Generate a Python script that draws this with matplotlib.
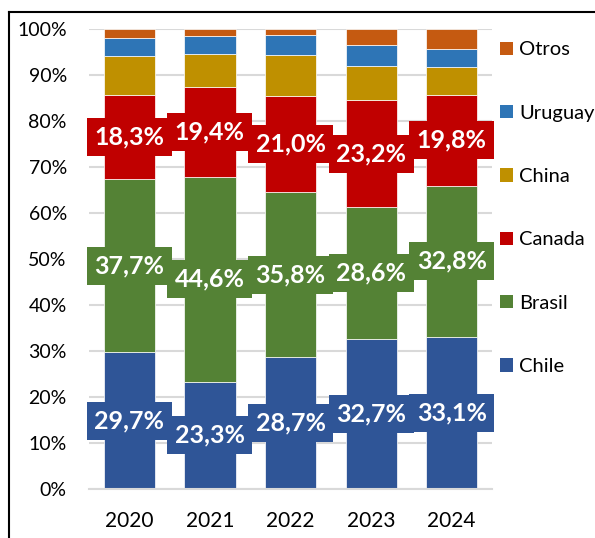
import matplotlib
matplotlib.use("Agg")
import matplotlib.pyplot as plt
from matplotlib.lines import Line2D
from matplotlib.patches import Patch
import numpy as np

years = ["2020", "2021", "2022", "2023", "2024"]
chile = [29.7, 23.3, 28.7, 32.7, 33.1]
brasil = [37.7, 44.6, 35.8, 28.6, 32.8]
canada = [18.3, 19.4, 21.0, 23.2, 19.8]
china = [8.5, 7.3, 8.9, 7.5, 6.0]
uruguay = [3.8, 3.9, 4.3, 4.5, 4.0]
otros = [2.0, 1.5, 1.3, 3.5, 4.3]

series = [
    ("Chile", chile, "#2F5597", True),
    ("Brasil", brasil, "#548235", True),
    ("Canada", canada, "#C00000", True),
    ("China", china, "#BF9000", False),
    ("Uruguay", uruguay, "#2E75B6", False),
    ("Otros", otros, "#C55A11", False),
]

plt.rcParams["font.family"] = ["Lato", "DejaVu Sans"]

fig = plt.figure(figsize=(5.95, 5.38), dpi=100)
ax = fig.add_axes([0.1496, 0.0911, 0.6773, 0.855])

x = np.arange(len(years))
bottom = np.zeros(len(years))
handles = []
for name, vals, color, labelled in series:
    vals = np.array(vals)
    ax.bar(x, vals, bottom=bottom, width=0.635, color=color,
           edgecolor="white", linewidth=0.5, zorder=2)
    if labelled:
        for xi, b, v in zip(x, bottom, vals):
            ax.text(xi, b + v / 2, f"{v:.1f}".replace(".", ",") + "%",
                    ha="center", va="center", color="white",
                    fontsize=18, fontweight="bold", zorder=4,
                    bbox=dict(boxstyle="square,pad=0.3", fc=color,
                              ec="none"))
    handles.append(Patch(facecolor=color, edgecolor="none", label=name))
    bottom += vals

ax.set_xlim(-0.5, 4.5)
ax.set_ylim(0, 100)
ax.set_yticks(np.arange(0, 101, 10))
ax.set_yticklabels([f"{v}%" for v in range(0, 101, 10)])
ax.set_xticks(x)
ax.set_xticklabels(years)
ax.tick_params(axis="y", length=0, pad=16, labelsize=14)
ax.tick_params(axis="x", length=0, pad=16, labelsize=15)
ax.yaxis.grid(True, color="#D9D9D9", linewidth=1.5, zorder=0)
ax.set_axisbelow(True)
for s in ["top", "right", "left"]:
    ax.spines[s].set_visible(False)
ax.spines["bottom"].set_color("#D9D9D9")
ax.spines["bottom"].set_linewidth(1.5)

fig.legend(handles=handles[::-1], loc="center left",
           bbox_to_anchor=(0.824, 0.613), frameon=False, fontsize=14.5,
           handlelength=0.65, handleheight=0.65, handletextpad=0.3,
           labelspacing=2.3, borderpad=0)

# chart frame
fig.add_artist(Line2D([0.0151, 1.0], [0.978, 0.978], color="black",
                      linewidth=1.5, transform=fig.transFigure))
fig.add_artist(Line2D([0.0151, 0.0151], [0.0, 0.978], color="black",
                      linewidth=1.5, transform=fig.transFigure))

fig.savefig("out.png", dpi=100)
